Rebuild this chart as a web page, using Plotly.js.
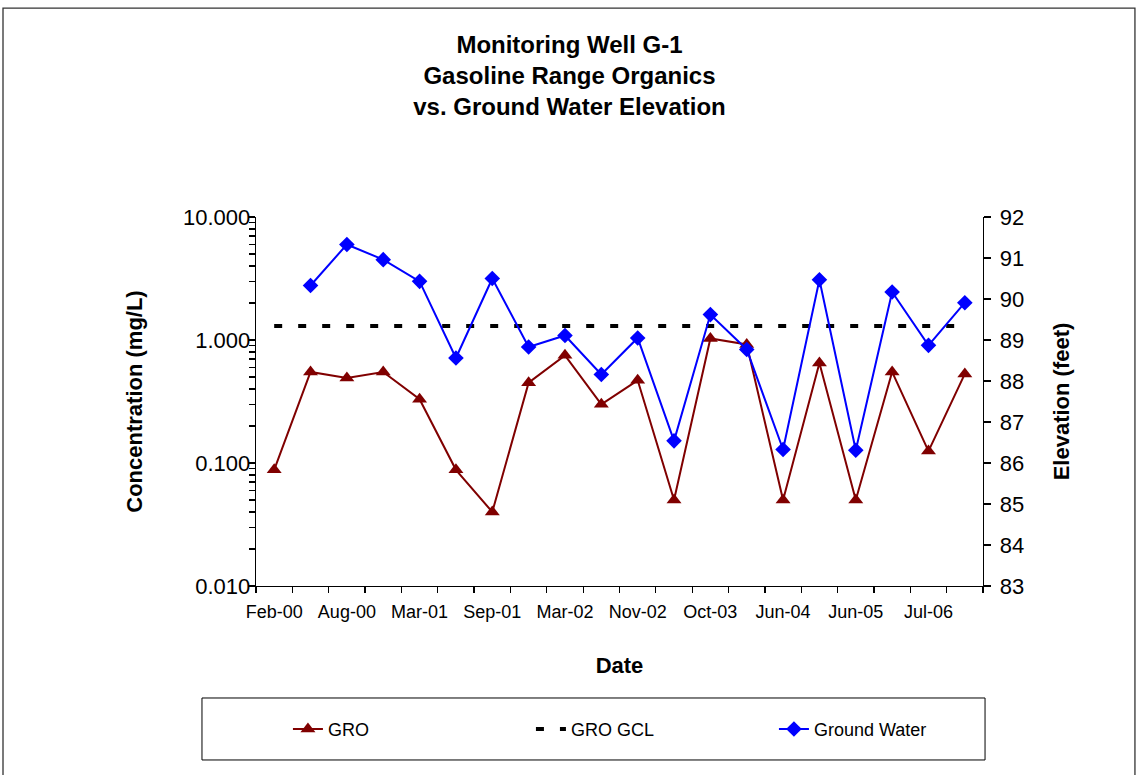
<!DOCTYPE html>
<html>
<head>
<meta charset="utf-8">
<script src="https://cdn.plot.ly/plotly-3.0.1.min.js"></script>
<style>html,body{margin:0;padding:0;background:#fff;}#chart{width:1139px;height:775px;}</style>
</head>
<body>
<div id="chart"></div>
<script>
// Sample index (sampling events, in order)
const sampleIndex = [0,1,2,3,4,5,6,7,8,9,10,11,12,13,14,15,16,17,18,19];
// Tick labels (shown on every second sampling event)
const tickIndex = [0,2,4,6,8,10,12,14,16,18];
const tickLabels = ['Feb-00','Aug-00','Mar-01','Sep-01','Mar-02','Nov-02','Oct-03','Jun-04','Jun-05','Jul-06'];
// GRO concentration (mg/L)
const groValues = [0.088,0.55,0.49,0.55,0.33,0.088,0.04,0.45,0.75,0.30,0.47,0.05,1.03,0.92,0.05,0.65,0.05,0.55,0.125,0.53];
// GRO GCL (mg/L)
const gclValues = [1.3,1.3,1.3,1.3,1.3,1.3,1.3,1.3,1.3,1.3,1.3,1.3,1.3,1.3,1.3,1.3,1.3,1.3,1.3,1.3];
// Ground water elevation (feet), from second sampling event
const gwIndex = [1,2,3,4,5,6,7,8,9,10,11,12,13,14,15,16,17,18,19];
const gwValues = [90.33,91.33,90.96,90.43,88.56,90.5,88.83,89.11,88.16,89.05,86.54,89.62,88.77,86.33,90.47,86.31,90.17,88.87,89.91];

const FONT = '"Liberation Sans", Arial, sans-serif';

const traces = [
  {name:'GRO', x: sampleIndex, y: groValues, type:'scatter', mode:'lines+markers',
   line:{color:'#800000', width:2}, marker:{symbol:'triangle-up', size:13, color:'#800000'}, yaxis:'y'},
  {name:'GRO GCL', x: sampleIndex, y: gclValues, type:'scatter', mode:'lines',
   line:{color:'#000000', width:4, dash:'8px,16px'}, yaxis:'y'},
  {name:'Ground Water', x: gwIndex, y: gwValues, type:'scatter', mode:'lines+markers',
   line:{color:'#0000FF', width:2}, marker:{symbol:'diamond', size:12, color:'#0000FF'}, yaxis:'y2'}
];

const xr = [-0.5, 19.5];
const layout = {
  width:1139, height:775,
  margin:{l:256, r:156, t:217, b:189},
  paper_bgcolor:'#fff', plot_bgcolor:'#fff',
  font:{family:FONT, color:'#000', size:18},
  showlegend:true,
  title:{text:'<b>Monitoring Well G-1<br>Gasoline Range Organics<br>vs. Ground Water Elevation</b>',
         font:{family:FONT, size:24, color:'#000'}, x:0.5, xref:'container', xanchor:'center',
         y:0.932, yref:'container', yanchor:'top'},
  xaxis:{range:xr, tickmode:'array', tickvals:tickIndex, ticktext:tickLabels,
         ticks:'outside', ticklen:6, tickcolor:'rgba(0,0,0,0)', ticklabelstandoff:3,
         showline:true, linecolor:'#000', linewidth:1.3, showgrid:false, zeroline:false,
         tickfont:{family:FONT, size:18},
         minor:{tickmode:'linear', tick0:-0.5, dtick:1, ticks:'outside', ticklen:6, tickcolor:'#000', tickwidth:1.3, showgrid:false},
         title:{text:'<b>Date</b>', font:{family:FONT, size:22}, standoff:36}},
  xaxis2:{range:xr, overlaying:'x', anchor:'y', side:'bottom', tickmode:'linear', tick0:-0.5, dtick:1,
          ticks:'inside', ticklen:6, tickcolor:'#000', tickwidth:1.3, showticklabels:false,
          showline:false, showgrid:false, zeroline:false},
  yaxis:{type:'log', range:[-2,1], tickmode:'array', tickvals:[0.01,0.1,1,10], tickformat:'.3f',
         ticks:'outside', ticklen:7, tickcolor:'#000', tickwidth:1.3, ticklabelstandoff:-7,
         showline:true, linecolor:'#000', linewidth:1.3, showgrid:false, zeroline:false,
         tickfont:{family:FONT, size:22},
         minor:{dtick:'D1', ticks:'outside', ticklen:6, tickcolor:'#000', tickwidth:1.3, showgrid:false},
         title:{text:'<b>Concentration (mg/L)</b>', font:{family:FONT, size:22}, standoff:34}},
  yaxis3:{type:'log', range:[-2,1], overlaying:'y', anchor:'x', side:'left', tickmode:'array', tickvals:[0.01,0.1,1,10],
          ticks:'inside', ticklen:7, tickcolor:'#000', tickwidth:1.3, showticklabels:false,
          showline:false, showgrid:false, zeroline:false},
  yaxis2:{range:[83,92], overlaying:'y', side:'right', anchor:'x', tickmode:'linear', tick0:83, dtick:1,
          ticks:'outside', ticklen:7, tickcolor:'#000', tickwidth:1.3, ticklabelstandoff:4,
          showline:true, linecolor:'#000', linewidth:1.3, showgrid:false, zeroline:false,
          tickfont:{family:FONT, size:22},
          title:{text:'<b>Elevation (feet)</b>', font:{family:FONT, size:22}, standoff:30}},
  yaxis4:{range:[83,92], overlaying:'y', side:'right', anchor:'x', tickmode:'linear', tick0:83, dtick:1,
          ticks:'inside', ticklen:7, tickcolor:'#000', tickwidth:1.3, showticklabels:false,
          showline:false, showgrid:false, zeroline:false},
  legend:{orientation:'h', x:0.2528, xanchor:'left', y:0.059, yanchor:'middle',
          xref:'container', yref:'container', bgcolor:'rgba(0,0,0,0)', borderwidth:0,
          entrywidth:198, entrywidthmode:'pixels', font:{family:FONT, size:18}},
  shapes:[
    {type:'rect', xref:'paper', yref:'paper', x0:-0.0743, x1:1.0028, y0:-0.4715, y1:-0.3035,
     line:{color:'#000', width:1}, fillcolor:'rgba(0,0,0,0)', layer:'below'},
    {type:'rect', xref:'paper', yref:'paper', x0:-0.348, x1:1.209, y0:-0.7, y1:1.566,
     line:{color:'#333', width:1.3}, fillcolor:'rgba(0,0,0,0)', layer:'below'}
  ]
};

Plotly.newPlot('chart', traces, layout, {displayModeBar:false, staticPlot:true});
</script>
</body>
</html>
